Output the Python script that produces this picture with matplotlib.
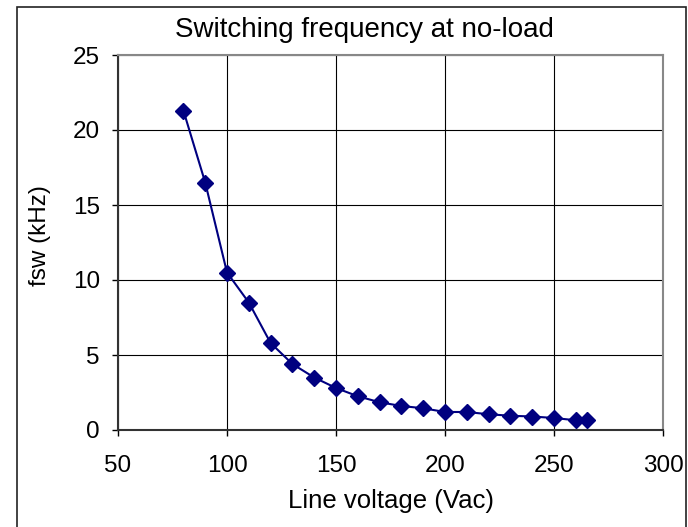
import matplotlib.pyplot as plt
from matplotlib.patches import Rectangle

plt.rcParams['font.family'] = ['Liberation Sans', 'DejaVu Sans']

# Line voltage (Vac) vs switching frequency (kHz)
voltage = [80, 90, 100, 110, 120, 130, 140, 150, 160, 170,
           180, 190, 200, 210, 220, 230, 240, 250, 260, 265]
fsw = [21.3, 16.5, 10.5, 8.5, 5.8, 4.4, 3.5, 2.8, 2.25, 1.85,
       1.6, 1.45, 1.2, 1.2, 1.05, 0.95, 0.9, 0.8, 0.65, 0.65]

xticks = [50, 100, 150, 200, 250, 300]
yticks = [0, 5, 10, 15, 20, 25]

fig = plt.figure(figsize=(6.88, 5.27), dpi=100)
ax = fig.add_axes([118/688, 1 - 430/527, (663-118)/688, (430-55)/527])

# outer chart frame
fig.patches.append(Rectangle((17/688, -0.02), (686-17)/688, 1.02 - 7/527,
                             transform=fig.transFigure, fill=False,
                             edgecolor='#222222', linewidth=1.2))

ax.plot(voltage, fsw, color='#000080', linewidth=1.5,
        marker='D', markersize=8, zorder=3, clip_on=False)

ax.set_xlim(50, 300)
ax.set_ylim(0, 25)
ax.set_xticks(xticks)
ax.set_yticks(yticks)
ax.grid(True, color='black', linewidth=0.8)
ax.set_axisbelow(True)

for s in ['top', 'right']:
    ax.spines[s].set_color('#888888')
    ax.spines[s].set_linewidth(1.5)
for s in ['left', 'bottom']:
    ax.spines[s].set_color('#333333')
    ax.spines[s].set_linewidth(1.5)

ax.tick_params(direction='out', length=4, width=1, labelsize=17.5)
ax.tick_params(axis='x', pad=14)
ax.tick_params(axis='y', pad=9)

fig.text(364/688, 1 - 30/527, 'Switching frequency at no-load',
         ha='center', va='center', fontsize=20)
fig.text(40/688, 1 - 236/527, 'fsw (kHz)', rotation=90,
         ha='center', va='center', fontsize=17.5)
fig.text(391/688, 1 - 501/527, 'Line voltage (Vac)',
         ha='center', va='center', fontsize=18.5)

fig.savefig('out.png', dpi=100)
